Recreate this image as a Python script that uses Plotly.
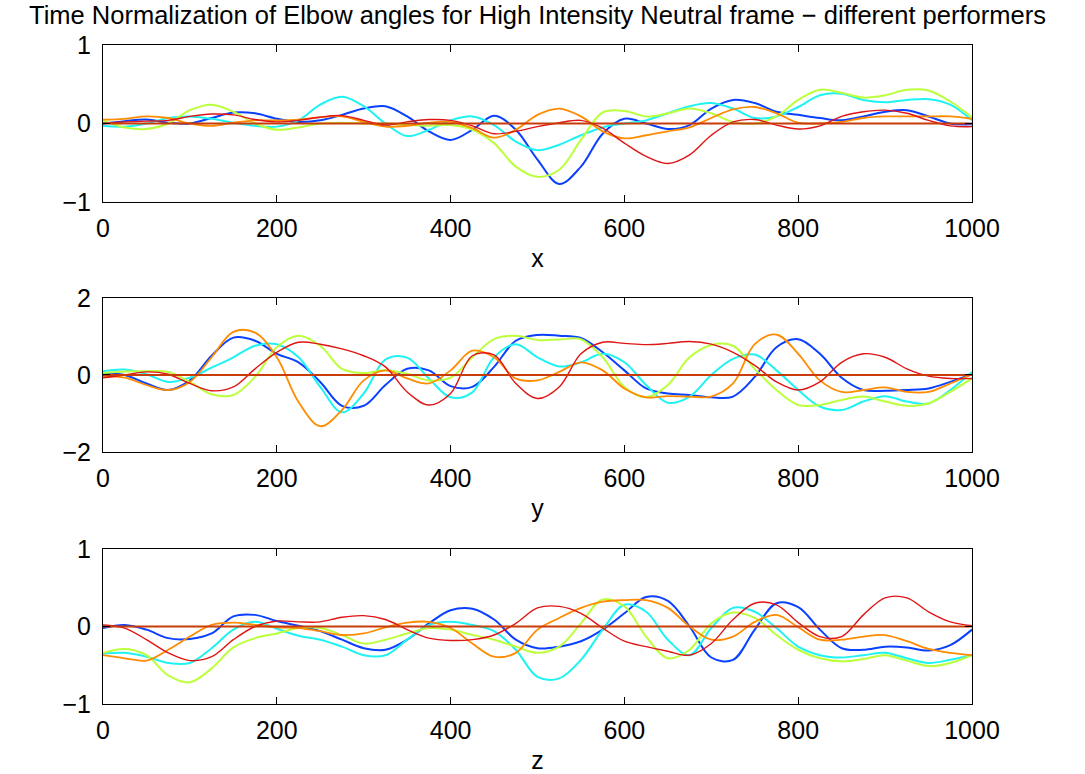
import plotly.graph_objects as go

# Sample positions along the normalized time axis (0..1000)
frames = list(range(0, 1001, 25))

# Reference performer (flat at zero after normalization)
reference = [0.0] * len(frames)

# ---- x component ----
x_blue = [0.0, 0.03, 0.05, 0.01, 0.0, 0.07, 0.14, 0.13, 0.06, 0.02, 0.04, 0.11, 0.19, 0.22, 0.09, -0.10, -0.21, -0.08, 0.10, -0.08, -0.46,
          -0.77, -0.55, -0.13, 0.06, 0.0, -0.07, -0.02, 0.19, 0.30, 0.26, 0.15, 0.11, 0.07, 0.04, 0.09, 0.15, 0.17, 0.09, 0.0, -0.01]
x_cyan = [-0.03, -0.04, 0.0, 0.07, 0.09, 0.06, 0.01, -0.03, -0.04, 0.04, 0.24, 0.34, 0.22, 0.0, -0.16, -0.08, 0.04, 0.09, -0.02, -0.23, -0.34,
          -0.27, -0.15, -0.05, 0.0, 0.04, 0.13, 0.22, 0.26, 0.19, 0.07, 0.09, 0.21, 0.36, 0.38, 0.30, 0.27, 0.30, 0.31, 0.24, 0.04]
x_lime = [0.04, -0.05, -0.07, 0.0, 0.17, 0.24, 0.15, 0.0, -0.08, -0.05, 0.0, 0.01, 0.0, 0.0, -0.02, -0.03, -0.02, -0.08, -0.25, -0.55, -0.68,
          -0.59, -0.21, 0.14, 0.16, 0.09, 0.13, 0.19, 0.13, 0.02, 0.0, 0.09, 0.30, 0.43, 0.39, 0.33, 0.36, 0.43, 0.42, 0.28, 0.08]
x_orange = [0.05, 0.06, 0.09, 0.07, 0.0, -0.03, 0.01, 0.04, 0.04, 0.05, 0.08, 0.09, 0.02, -0.04, -0.03, 0.01, 0.02, -0.06, -0.18, -0.08, 0.11,
            0.19, 0.09, -0.10, -0.19, -0.15, -0.10, -0.05, 0.07, 0.18, 0.21, 0.13, 0.01, 0.0, 0.02, 0.07, 0.09, 0.09, 0.09, 0.09, 0.06]
x_red = [0.0, 0.02, 0.03, 0.04, 0.09, 0.12, 0.11, 0.05, 0.02, 0.04, 0.08, 0.10, 0.04, -0.02, 0.02, 0.05, 0.04, -0.03, -0.13, -0.10, -0.04,
         0.01, 0.04, -0.06, -0.25, -0.42, -0.51, -0.40, -0.15, 0.02, 0.05, -0.02, -0.07, -0.03, 0.09, 0.15, 0.17, 0.13, 0.04, -0.03, -0.04]

# ---- y component ----
y_blue = [0.03, 0.0, -0.22, -0.39, -0.14, 0.50, 0.97, 0.89, 0.55, 0.33, -0.18, -0.80, -0.80, -0.26, 0.16, 0.12, -0.29, -0.31, 0.21, 0.89, 1.04,
          1.02, 0.96, 0.59, 0.12, -0.35, -0.48, -0.52, -0.58, -0.56, -0.05, 0.72, 0.93, 0.55, -0.07, -0.39, -0.41, -0.39, -0.35, -0.18, 0.02]
y_cyan = [0.10, 0.14, 0.02, -0.18, -0.07, 0.19, 0.46, 0.76, 0.80, 0.46, -0.31, -0.97, -0.48, 0.40, 0.45, -0.09, -0.58, -0.45, 0.46, 0.80, 0.46,
          0.22, 0.33, 0.55, 0.33, -0.26, -0.72, -0.56, 0.0, 0.42, 0.53, 0.12, -0.39, -0.82, -0.91, -0.69, -0.55, -0.69, -0.74, -0.39, 0.08]
y_lime = [0.05, 0.09, 0.10, 0.08, -0.18, -0.50, -0.52, -0.05, 0.72, 1.02, 0.76, 0.16, 0.05, 0.12, 0.03, -0.14, -0.07, 0.46, 0.93, 1.02, 0.91,
          0.92, 0.93, 0.46, -0.31, -0.58, -0.26, 0.46, 0.78, 0.76, 0.16, -0.39, -0.78, -0.78, -0.65, -0.56, -0.69, -0.80, -0.74, -0.44, -0.09]
y_orange = [-0.03, -0.07, -0.26, -0.39, -0.18, 0.46, 1.12, 1.10, 0.46, -0.70, -1.33, -0.91, -0.14, 0.12, -0.09, -0.22, 0.12, 0.63, 0.46, -0.09, -0.14,
            0.08, 0.33, 0.12, -0.35, -0.58, -0.55, -0.56, -0.56, -0.22, 0.80, 1.05, 0.55, -0.14, -0.44, -0.39, -0.32, -0.44, -0.44, -0.22, 0.02]
y_red = [-0.07, 0.0, 0.08, 0.02, -0.22, -0.41, -0.31, 0.16, 0.59, 0.85, 0.80, 0.68, 0.50, 0.21, -0.44, -0.78, -0.48, 0.50, 0.52, -0.22, -0.61,
         -0.31, 0.55, 0.85, 0.82, 0.79, 0.82, 0.87, 0.80, 0.59, 0.25, -0.18, -0.39, -0.18, 0.33, 0.55, 0.46, 0.16, -0.03, -0.09, -0.09]

# ---- z component ----
z_blue = [-0.02, 0.02, -0.04, -0.15, -0.16, -0.09, 0.13, 0.15, 0.07, 0.01, -0.06, -0.17, -0.28, -0.30, -0.17, 0.04, 0.21, 0.23, 0.09, -0.17, -0.28,
          -0.26, -0.19, -0.04, 0.17, 0.38, 0.33, 0.0, -0.40, -0.43, -0.04, 0.30, 0.25, -0.04, -0.28, -0.30, -0.26, -0.27, -0.31, -0.24, -0.04]
z_cyan = [-0.35, -0.34, -0.39, -0.47, -0.47, -0.28, -0.04, 0.06, -0.03, -0.12, -0.17, -0.26, -0.37, -0.37, -0.17, 0.02, 0.06, 0.02, -0.06, -0.30, -0.65,
          -0.67, -0.43, -0.04, 0.28, 0.19, -0.17, -0.37, -0.02, 0.24, 0.19, -0.02, -0.26, -0.37, -0.40, -0.37, -0.34, -0.41, -0.47, -0.43, -0.37]
z_lime = [-0.34, -0.29, -0.37, -0.63, -0.72, -0.54, -0.27, -0.15, -0.09, -0.02, -0.02, -0.11, -0.22, -0.17, -0.09, -0.02, -0.04, -0.11, -0.17, -0.26, -0.34,
          -0.26, 0.04, 0.35, 0.26, -0.13, -0.41, -0.30, 0.04, 0.18, 0.11, -0.11, -0.30, -0.41, -0.45, -0.42, -0.37, -0.44, -0.51, -0.47, -0.37]
z_orange = [-0.37, -0.41, -0.44, -0.30, -0.13, 0.02, 0.05, 0.02, -0.01, -0.02, -0.06, -0.11, -0.09, -0.01, 0.05, 0.06, -0.02, -0.22, -0.39, -0.34, -0.04,
            0.11, 0.24, 0.32, 0.34, 0.34, 0.24, 0.0, -0.17, -0.13, 0.06, 0.15, -0.01, -0.17, -0.17, -0.13, -0.11, -0.19, -0.29, -0.34, -0.37]
z_red = [0.02, -0.02, -0.17, -0.34, -0.44, -0.39, -0.17, 0.0, 0.07, 0.06, 0.06, 0.12, 0.14, 0.09, -0.04, -0.15, -0.18, -0.17, -0.11, 0.04, 0.24,
         0.26, 0.17, -0.02, -0.19, -0.26, -0.32, -0.37, -0.22, 0.09, 0.30, 0.28, 0.05, -0.13, -0.13, 0.15, 0.37, 0.37, 0.19, 0.06, 0.01]

x_ticks = [0, 200, 400, 600, 800, 1000]
y_ticks_x = [-1, 0, 1]
y_ticks_y = [-2, 0, 2]
y_ticks_z = [-1, 0, 1]
panel_labels = ["x", "y", "z"]
title_text = "Time Normalization of Elbow angles for High Intensity Neutral frame \u2212 different performers"

colors = ["#0a40ff", "#1ff2f2", "#bcff3c", "#ff8c00", "#e01414", "#c83c0a"]
widths = [2.0, 2.0, 2.0, 1.8, 1.4, 2.0]

panels = [
    [x_blue, x_cyan, x_lime, x_orange, x_red, reference],
    [y_blue, y_cyan, y_lime, y_orange, y_red, reference],
    [z_blue, z_cyan, z_lime, z_orange, z_red, reference],
]
yranges = [[-1, 1], [-2, 2], [-1, 1]]
yticks = [y_ticks_x, y_ticks_y, y_ticks_z]

fig = go.Figure()
for i, series in enumerate(panels):
    ax = "" if i == 0 else str(i + 1)
    for vals, c, w in zip(series, colors, widths):
        fig.add_trace(go.Scatter(
            x=frames, y=vals, mode="lines",
            line=dict(color=c, width=w, shape="spline", smoothing=1.0),
            xaxis="x" + ax, yaxis="y" + ax, showlegend=False, hoverinfo="skip",
        ))

font = dict(family="Liberation Sans, Arial, Helvetica, sans-serif", size=25, color="black")
title_font = dict(family="Liberation Sans, Arial, Helvetica, sans-serif", size=25.5, color="black")
domains = [[0.7618, 1.0], [0.3824, 0.6161], [0.0, 0.2352]]

layout = dict(
    width=1085, height=774,
    margin=dict(l=103, r=113, t=45, b=70),
    paper_bgcolor="white", plot_bgcolor="white",
    font=font,
    showlegend=False,
)
for i in range(3):
    ax = "" if i == 0 else str(i + 1)
    layout["xaxis" + ax] = dict(
        domain=[0, 1], range=[0, 1000], anchor="y" + ax, automargin=False,
        tickmode="array", tickvals=x_ticks, ticks="inside", ticklen=7, tickcolor="black",
        showline=True, linecolor="black", linewidth=1, mirror="ticks",
        showgrid=False, zeroline=False, ticklabelstandoff=4,
        title=dict(text=panel_labels[i], font=font, standoff=8),
        tickfont=font,
    )
    layout["yaxis" + ax] = dict(
        domain=domains[i], range=yranges[i], anchor="x" + ax, automargin=False,
        tickmode="array", tickvals=yticks[i], ticks="inside", ticklen=7, tickcolor="black",
        showline=True, linecolor="black", linewidth=1, mirror="ticks",
        showgrid=False, zeroline=False, ticklabelstandoff=6,
        tickfont=font,
    )

layout["annotations"] = [dict(
    text=title_text, x=0.5, y=1, xref="paper", yref="paper",
    xanchor="center", yanchor="middle", yshift=30, showarrow=False, font=title_font,
)]

fig.update_layout(**layout)
fig.write_html("out.html")
